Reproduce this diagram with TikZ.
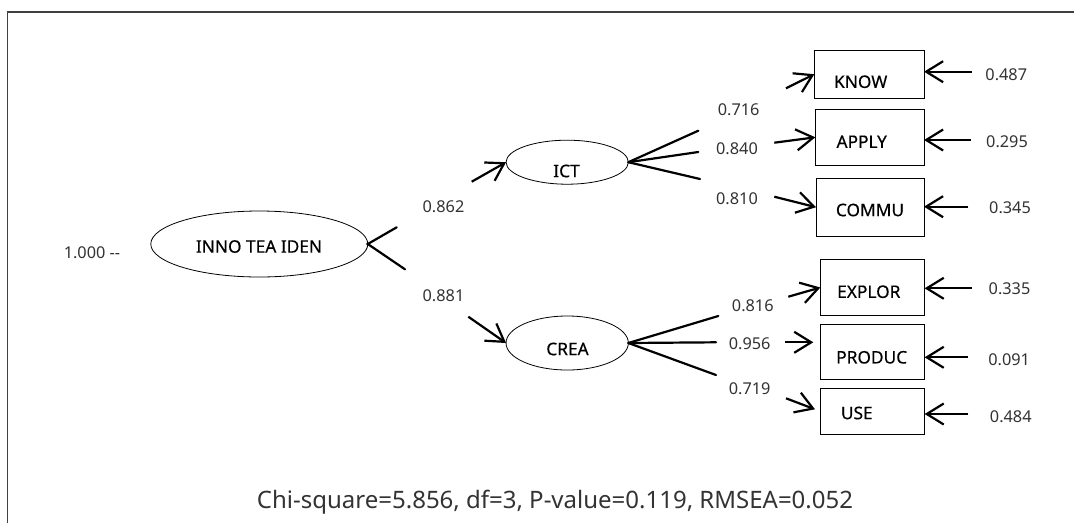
\documentclass[tikz,border=0pt]{standalone}
\usepackage{fontspec}
\setmainfont{Noto Sans}
\newfontfamily\lblfont[FakeBold=0.4]{Noto Sans}
\usetikzlibrary{arrows.meta,shapes.geometric}
\definecolor{numgray}{HTML}{333333}
\begin{document}
\begin{tikzpicture}[x=1pt,y=-1pt,
  frame/.style={draw=black!75,line width=1.3pt},
  ell/.style={draw,ellipse,line width=0.8pt,inner sep=0pt,outer sep=0pt},
  obs/.style={draw,rectangle,line width=0.9pt,inner sep=0pt,outer sep=0pt},
  lbl/.style={inner sep=0pt,font=\lblfont\fontsize{17.3}{20}\selectfont},
  num/.style={inner sep=0pt,font=\fontsize{16.3}{19}\selectfont,text=numgray},
  arr/.style={line width=2.2pt,-{Straight Barb[length=17pt,width=21pt]}},
  fan/.style={line width=2.2pt,line cap=round},
]
\useasboundingbox (0,0) rectangle (1074,523);
\draw[frame] (7.2,523) -- (7.2,12) -- (1074,12);

% latent variables
\node[ell,minimum width=217,minimum height=66] (inno) at (259.3,244) {};
\node[lbl] (innot) at (259,246.5) {INNO TEA IDEN};
\node[ell,minimum width=122.3,minimum height=44] (ict) at (567.2,162.2) {};
\node[lbl] (ictt) at (566.5,171) {ICT};
\node[ell,minimum width=122.3,minimum height=54] (crea) at (567.2,343) {};
\node[lbl] (creat) at (567.5,349) {CREA};

% observed variables
\node[obs,minimum width=109.7,minimum height=48.3] (know) at (869.2,74.2) {};
\node[lbl] (knowt) at (860.7,81.7) {KNOW};
\node[obs,minimum width=108.7,minimum height=56] (apply) at (869.7,137.3) {};
\node[lbl] (applyt) at (861.7,141.7) {APPLY};
\node[obs,minimum width=108,minimum height=57.7] (commu) at (870,207.2) {};
\node[lbl] (commut) at (870,210) {COMMU};
\node[obs,minimum width=104.3,minimum height=56.3] (explor) at (872.5,287.5) {};
\node[lbl] (explort) at (868.8,291.7) {EXPLOR};
\node[obs,minimum width=104.3,minimum height=54.7] (produc) at (872.5,351.7) {};
\node[lbl] (product) at (871.7,357.3) {PRODUC};
\node[obs,minimum width=104.3,minimum height=45.7] (usebox) at (872.5,411.2) {};
\node[lbl] (uset) at (856.8,413) {USE};

% coordinates of broken connectors
\coordinate (f1) at (396.7,227.3);
\coordinate (f2) at (405,269.3);
\coordinate (s1) at (471.7,181.7);
\coordinate (s2) at (468.3,316.7);
\coordinate (i1) at (698.3,130.7);
\coordinate (i2) at (698.3,152);
\coordinate (i3) at (700,179);
\coordinate (c1) at (718.3,316);
\coordinate (c2) at (716,342.3);
\coordinate (c3) at (716,375);
\coordinate (lk) at (786,88.3);
\coordinate (la) at (774.3,142.7);
\coordinate (lc) at (774.3,196.7);
\coordinate (le) at (788.3,296.7);
\coordinate (lp) at (785,342.3);
\coordinate (lpt) at (813.3,342.3);
\coordinate (lu) at (786,398.3);
\coordinate (lut) at (815,409.3);
\coordinate (ek) at (971.7,71.7);
\coordinate (ea) at (970.7,140);
\coordinate (ec) at (968.3,206.7);
\coordinate (ee) at (971.7,288.3);
\coordinate (ep) at (968.3,357.3);
\coordinate (eu) at (968.3,414);

% connectors
\draw[fan] (f1) -- (inno.east) -- (f2);
\draw[arr] (s1) -- (ict.west);
\draw[arr] (s2) -- (crea.west);
\draw[fan] (ict.east) -- (i1);
\draw[fan] (ict.east) -- (i2);
\draw[fan] (ict.east) -- (i3);
\draw[fan] (crea.east) -- (c1);
\draw[fan] (crea.east) -- (c2);
\draw[fan] (crea.east) -- (c3);
\draw[arr] (lk) -- (know.west);
\draw[arr] (la) -- (apply.west);
\draw[arr] (lc) -- (commu.west);
\draw[arr] (le) -- (explor.west);
\draw[arr] (lp) -- (lpt);
\draw[arr] (lu) -- (lut);
\draw[arr] (ek) -- (ek -| know.east);
\draw[arr] (ea) -- (ea -| apply.east);
\draw[arr] (ec) -- (ec -| commu.east);
\draw[arr] (ee) -- (ee -| explor.east);
\draw[arr] (ep) -- (ep -| produc.east);
\draw[arr] (eu) -- (eu -| usebox.east);

% numbers
\node[num] (n1000) at (92,253) {1.000 -{}-};
\node[num] (n862) at (443.5,207) {0.862};
\node[num] (n881) at (443.5,296) {0.881};
\node[num] (n716) at (738.7,110) {0.716};
\node[num] (n840) at (737,148.8) {0.840};
\node[num] (n810) at (737,198.3) {0.810};
\node[num] (n816) at (752.8,305.3) {0.816};
\node[num] (n956) at (749.7,343.3) {0.956};
\node[num] (n719) at (749.7,388.3) {0.719};
\node[num] (e487) at (1006.3,75) {0.487};
\node[num] (e295) at (1007,142) {0.295};
\node[num] (e345) at (1010,207.8) {0.345};
\node[num] (e335) at (1009.5,288.3) {0.335};
\node[num] (e091) at (1009.2,359.3) {0.091};
\node[num] (e484) at (1010.8,416.7) {0.484};

\node[inner sep=0pt,anchor=base,font=\fontsize{24}{28}\selectfont,text=numgray] (fit) at (555,508.3) {Chi-square=5.856, df=3, P-value=0.119, RMSEA=0.052};
\end{tikzpicture}
\end{document}
